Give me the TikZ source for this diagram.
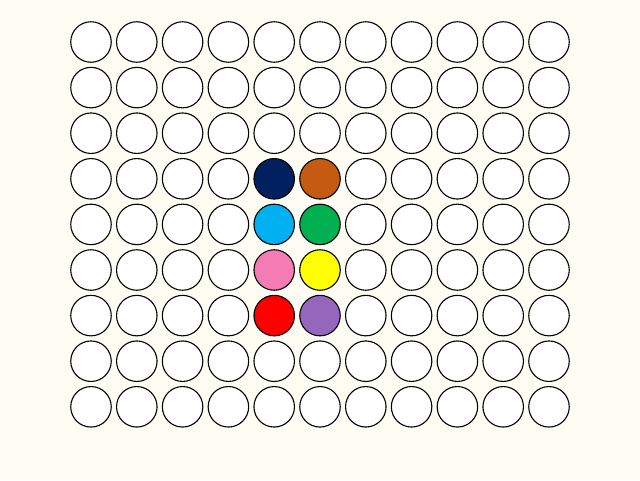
\documentclass[tikz,border=0pt]{standalone}
\usepackage{xcolor}
\usepackage{tikz}
\usetikzlibrary{positioning}
\definecolor{paper}{RGB}{253,253,244}
\definecolor{cellnavy}{RGB}{0,32,96}
\definecolor{cellrust}{RGB}{197,90,17}
\definecolor{cellsky}{RGB}{0,176,240}
\definecolor{cellgreen}{RGB}{0,176,80}
\definecolor{cellpink}{RGB}{244,124,180}
\definecolor{cellyellow}{RGB}{255,255,0}
\definecolor{cellred}{RGB}{255,0,0}
\definecolor{cellpurple}{RGB}{148,103,189}
\tikzset{
  dot/.style={circle, draw=black, line width=1.1pt, fill=white, minimum size=40.5pt, inner sep=0pt},
  hue 5-4/.style={fill=cellnavy},
  hue 6-4/.style={fill=cellrust},
  hue 5-5/.style={fill=cellsky},
  hue 6-5/.style={fill=cellgreen},
  hue 5-6/.style={fill=cellpink},
  hue 6-6/.style={fill=cellyellow},
  hue 5-7/.style={fill=cellred},
  hue 6-7/.style={fill=cellpurple},
}

\begin{document}
\begin{tikzpicture}[x=1pt, y=-1pt]
  \fill[paper] (0,0) rectangle (640,480);
  \useasboundingbox (0,0) rectangle (640,480);
  % 11 x 9 grid of cells
  \foreach \i in {1,...,11}
    \foreach \j in {1,...,9}
      \node[dot, hue \i-\j/.try] (c\i-\j) at ({91+45.8*(\i-1)}, {42+45.6*(\j-1)}) {};
\end{tikzpicture}
\end{document}
